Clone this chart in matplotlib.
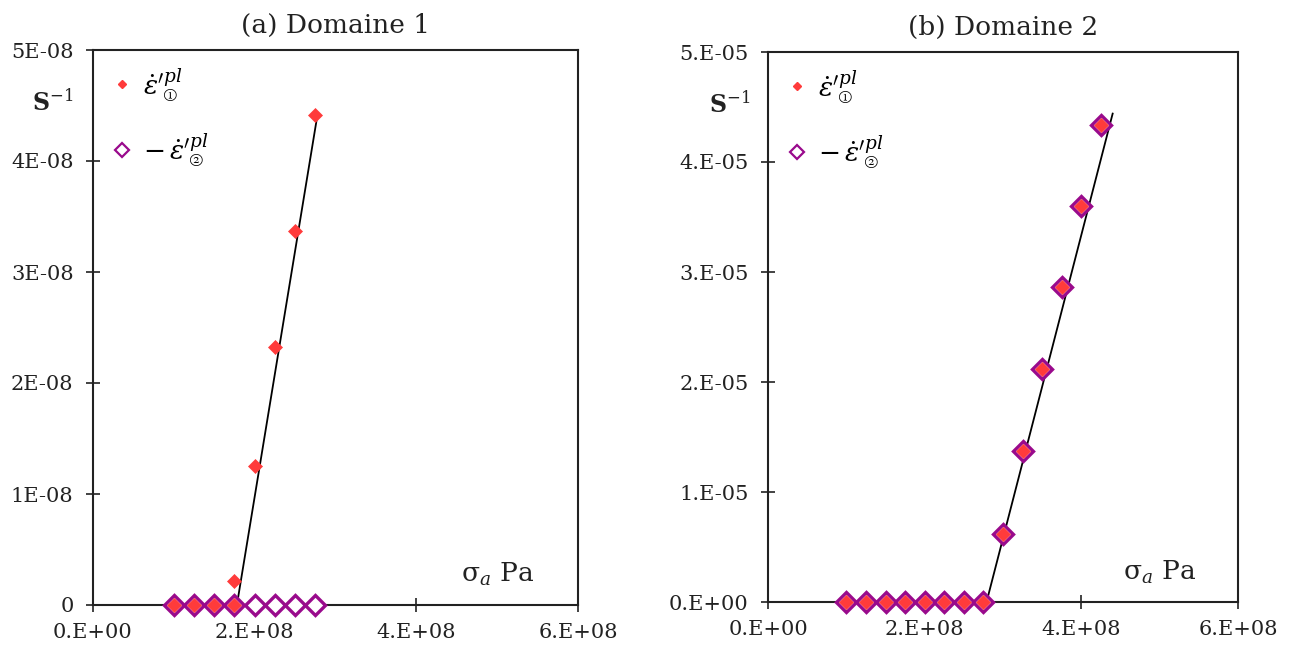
import matplotlib
matplotlib.use("Agg")
import matplotlib.pyplot as plt

# ---- data ----
# Panel (a) Domaine 1
a_eps1_x = [1.0e8, 1.25e8, 1.5e8, 1.75e8, 1.74e8, 2.0e8, 2.25e8, 2.5e8, 2.75e8]
a_eps1_y = [0.0, 0.0, 0.0, 0.0, 0.22e-8, 1.25e-8, 2.32e-8, 3.37e-8, 4.41e-8]
a_eps2_x = [1.0e8, 1.25e8, 1.5e8, 1.75e8, 2.0e8, 2.25e8, 2.5e8, 2.75e8]
a_eps2_y = [0.0, 0.0, 0.0, 0.0, 0.0, 0.0, 0.0, 0.0]
a_fit_x = [1.78e8, 2.78e8]
a_fit_y = [0.0, 4.43e-8]

# Panel (b) Domaine 2
b_x = [1.0e8, 1.25e8, 1.5e8, 1.75e8, 2.0e8, 2.25e8, 2.5e8, 2.75e8,
       3.0e8, 3.25e8, 3.5e8, 3.75e8, 4.0e8, 4.25e8]
b_eps1_y = [0, 0, 0, 0, 0, 0, 0, 0,
            0.62e-5, 1.37e-5, 2.12e-5, 2.86e-5, 3.60e-5, 4.34e-5]
b_eps2_y = [0, 0, 0, 0, 0, 0, 0, 0,
            0.62e-5, 1.37e-5, 2.12e-5, 2.86e-5, 3.60e-5, 4.34e-5]
b_fit_x = [2.79e8, 4.40e8]
b_fit_y = [0.0, 4.44e-5]

x_ticks = [0, 2e8, 4e8, 6e8]
x_ticklabels = ["0.E+00", "2.E+08", "4.E+08", "6.E+08"]
a_y_ticks = [0, 1e-8, 2e-8, 3e-8, 4e-8, 5e-8]
a_y_ticklabels = ["0", "1E-08", "2E-08", "3E-08", "4E-08", "5E-08"]
b_y_ticks = [0, 1e-5, 2e-5, 3e-5, 4e-5, 5e-5]
b_y_ticklabels = ["0.E+00", "1.E-05", "2.E-05", "3.E-05", "4.E-05", "5.E-05"]

titles = ["(a) Domaine 1", "(b) Domaine 2"]
label1 = r"$\dot{\varepsilon}'^{pl}_{①}$"
label2 = r"$-\,\dot{\varepsilon}'^{pl}_{②}$"

RED = "#FF3B3B"
PURPLE = "#990A8C"
TXT = '#222222'

plt.rcParams['font.family'] = ['DejaVu Serif', 'DejaVu Sans']
plt.rcParams['mathtext.fontset'] = 'dejavuserif'

fig = plt.figure(figsize=(12.89, 6.52), dpi=100)
axA = fig.add_axes([93/1289, 1-605/652, (578-93)/1289, (605-50)/652])
axB = fig.add_axes([768/1289, 1-602/652, (1238-768)/1289, (602-52)/652])


def style(ax, yticks, yticklabels, title):
    ax.set_xlim(0, 6e8)
    ax.set_ylim(yticks[0], yticks[-1])
    ax.set_xticks(x_ticks)
    ax.set_xticklabels(x_ticklabels)
    ax.set_yticks(yticks)
    ax.set_yticklabels(yticklabels)
    ax.tick_params(direction='inout', length=10, width=1.2, labelsize=15,
                   colors=TXT)
    ax.tick_params(axis='x', pad=8)
    ax.tick_params(axis='y', pad=9)
    for s in ax.spines.values():
        s.set_linewidth(1.5)
        s.set_color(TXT)
    ax.set_title(title, fontsize=19, pad=12, color=TXT)
    ax.text(0.91, 0.03, r"σ$_{a}$ Pa", transform=ax.transAxes,
            ha='right', va='bottom', fontsize=19, color=TXT)
    ax.text(-0.125, 0.905, r"S$^{-1}$", transform=ax.transAxes,
            ha='left', va='center', fontsize=17, color=TXT,
            fontweight='bold')


def legend(ax):
    l1, = ax.plot([], [], ls='none', marker='D', ms=4.5, mfc=RED, mec=RED)
    l2, = ax.plot([], [], ls='none', marker='D', ms=7.5, mfc='white',
                  mec=PURPLE, mew=1.6)
    ax.legend([l1, l2], [label1, label2], loc='upper left', frameon=False,
              fontsize=19, labelspacing=1.1, handlelength=1.0,
              handletextpad=0.3, borderaxespad=0.2,
              bbox_to_anchor=(0.0, 1.0))


# Panel (a)
axA.plot(a_fit_x, a_fit_y, color='black', lw=1.3, zorder=2)
axA.plot(a_eps2_x, a_eps2_y, ls='none', marker='D', ms=10.5,
         mfc='white', mec=PURPLE, mew=2.4, zorder=3, clip_on=False)
axA.plot(a_eps1_x, a_eps1_y, ls='none', marker='D', ms=7.5,
         mfc=RED, mec=RED, mew=0.5, zorder=4, clip_on=False)
style(axA, a_y_ticks, a_y_ticklabels, titles[0])
legend(axA)

# Panel (b)
axB.plot(b_fit_x, b_fit_y, color='black', lw=1.3, zorder=2)
axB.plot(b_x, b_eps2_y, ls='none', marker='D', ms=10.5,
         mfc='white', mec=PURPLE, mew=2.4, zorder=3, clip_on=False)
axB.plot(b_x, b_eps1_y, ls='none', marker='D', ms=7.5,
         mfc=RED, mec=RED, mew=0.5, zorder=4, clip_on=False)
style(axB, b_y_ticks, b_y_ticklabels, titles[1])
legend(axB)

fig.savefig("out.png", dpi=100, facecolor='white')
